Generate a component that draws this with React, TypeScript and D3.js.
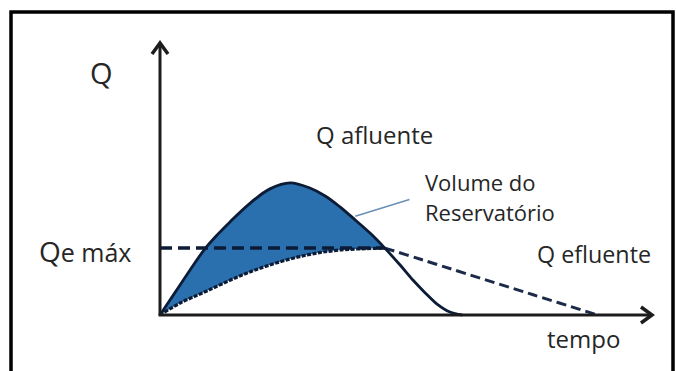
import React from "react";
import * as d3 from "d3";

// Time (arbitrary units) and discharge Q (arbitrary units)
const tAfluente = [0, 3.0, 6.1, 9.1, 11.8, 14.2, 18.3, 22.3, 26.4, 30.4, 33.5, 36.5, 39.6, 42.6, 45.6, 48.7, 51.3, 53.8, 56.2, 58.8, 61.3];
const qAfluente = [0, 8.1, 16.5, 24.2, 29.7, 34.1, 41.0, 46.2, 48.4, 46.5, 43.6, 39.6, 34.8, 30.0, 24.5, 18.3, 12.8, 8.1, 4.0, 1.1, 0];

const tEfluente = [0, 4.1, 9.5, 16.2, 22.9, 29.8, 36.5, 45.6, 52.7, 62.3, 75.7, 88.8];
const qEfluente = [0, 4.4, 8.8, 14.3, 18.7, 22.0, 23.8, 24.5, 20.5, 15.0, 7.4, 0];

const qeMax = 24.5;
const tPeakEfluente = 45.6;

// leader line for "Volume do Reservatório" (t, Q)
const leaderFrom = [39.6, 36.2];
const leaderTo = [50.6, 42.3];

const labels = {
  yAxis: "Q",
  afluente: "Q afluente",
  efluente: "Q efluente",
  volume1: "Volume do",
  volume2: "Reservatório",
  time: "tempo",
};

const W = 676;
const H = 371;

export default function App() {
  const x = d3.scaleLinear().domain([0, 100]).range([160, 653]);
  const y = d3.scaleLinear().domain([0, 100]).range([315, 42]);

  const afl = tAfluente.map((t, i) => [t, qAfluente[i]] as [number, number]);
  const efl = tEfluente.map((t, i) => [t, qEfluente[i]] as [number, number]);

  const line = d3
    .line<[number, number]>()
    .x((d) => x(d[0]))
    .y((d) => y(d[1]))
    .curve(d3.curveCatmullRom.alpha(0.5));

  const aflRise = afl.filter((d) => d[0] <= tPeakEfluente);
  const eflRise = efl.filter((d) => d[0] <= tPeakEfluente);
  const eflFall = efl.filter((d) => d[0] >= tPeakEfluente);

  const fillPath =
    (line(aflRise) || "") +
    (line(eflRise.slice().reverse()) || "").replace(/^M/, "L") +
    "Z";

  const stroke = "#0c1b36";
  const axisColor = "#1c1c1c";
  const font = "'Open Sans', 'DejaVu Sans', sans-serif";

  const x0 = x(0);
  const y0 = y(0);
  const xEnd = x(100);
  const yTop = y(100);

  return (
    <svg
      width={W}
      height={H}
      style={{ position: "absolute", left: 0, top: 0, background: "#fff" }}
    >
      {/* frame */}
      <path
        d={`M11,${H + 5} L11,12 L673,12 L673,${H + 5}`}
        fill="none"
        stroke="#000"
        strokeWidth={3.5}
      />

      {/* reservoir volume fill */}
      <path d={fillPath} fill="#2a6fae" stroke="none" />

      {/* Qe max dashed line */}
      <line
        x1={x0}
        x2={x(tPeakEfluente)}
        y1={y(qeMax)}
        y2={y(qeMax)}
        stroke={stroke}
        strokeWidth={3.5}
        strokeDasharray="12,6"
      />

      {/* efluente rising (rough dotted) */}
      <path
        d={line(eflRise) || ""}
        fill="none"
        stroke={stroke}
        strokeWidth={3.2}
        strokeDasharray="4,1.5"
      />
      {/* efluente falling (dashed) */}
      <path
        d={line(eflFall) || ""}
        fill="none"
        stroke="#1b2a48"
        strokeWidth={3}
        strokeDasharray="10,5"
      />

      {/* afluente hydrograph */}
      <path
        d={line(afl) || ""}
        fill="none"
        stroke={stroke}
        strokeWidth={2.8}
        strokeLinejoin="round"
      />

      {/* leader line */}
      <line
        x1={x(leaderFrom[0])}
        y1={y(leaderFrom[1])}
        x2={x(leaderTo[0])}
        y2={y(leaderTo[1])}
        stroke="#6a8fb5"
        strokeWidth={1.5}
      />

      {/* axes */}
      <line x1={x0} y1={y0} x2={x0} y2={yTop + 1} stroke={axisColor} strokeWidth={3} />
      <line x1={x0 - 1.5} y1={y0} x2={xEnd - 1} y2={y0} stroke={axisColor} strokeWidth={3} />
      <path
        d={`M${x0 - 8},${yTop + 12} L${x0},${yTop + 1} L${x0 + 8},${yTop + 12}`}
        fill="none"
        stroke={axisColor}
        strokeWidth={3.5}
        strokeLinejoin="miter"
      />
      <path
        d={`M${xEnd - 12},${y0 - 8} L${xEnd - 1},${y0} L${xEnd - 12},${y0 + 8}`}
        fill="none"
        stroke={axisColor}
        strokeWidth={3.5}
      />

      {/* texts */}
      <g fontFamily={font} fill="#262626">
        <text x={90} y={84} fontSize={29}>
          {labels.yAxis}
        </text>
        <text x={39} y={262} fontSize={28}>
          Q
          <tspan fontSize={25}>e máx</tspan>
        </text>
        <text x={316} y={144} fontSize={24}>
          {labels.afluente}
        </text>
        <text x={425} y={191} fontSize={22}>
          {labels.volume1}
        </text>
        <text x={425} y={221} fontSize={22}>
          {labels.volume2}
        </text>
        <text x={537} y={263} fontSize={23.3}>
          {labels.efluente}
        </text>
        <text x={547} y={348} fontSize={24}>
          {labels.time}
        </text>
      </g>
    </svg>
  );
}
